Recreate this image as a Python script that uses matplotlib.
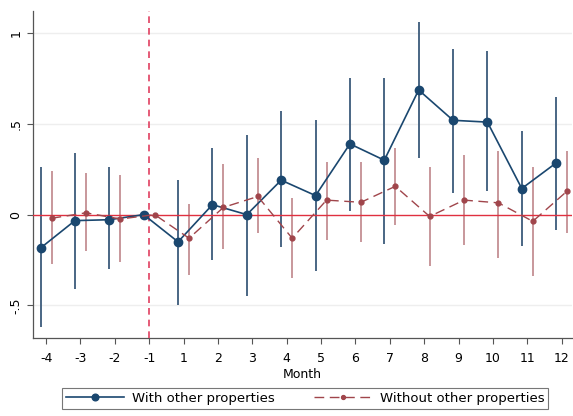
import matplotlib
matplotlib.use("Agg")
import matplotlib.pyplot as plt
import numpy as np

months = ["-4", "-3", "-2", "-1", "1", "2", "3", "4", "5", "6", "7", "8", "9", "10", "11", "12"]

with_est = [-0.184, -0.033, -0.028, 0.0, -0.15, 0.055, 0.0, 0.19, 0.105, 0.39, 0.30, 0.687, 0.52, 0.51, 0.144, 0.285]
with_lo = [-0.62, -0.41, -0.30, 0.0, -0.50, -0.25, -0.45, -0.18, -0.31, 0.02, -0.16, 0.31, 0.12, 0.13, -0.175, -0.087]
with_hi = [0.26, 0.34, 0.26, 0.0, 0.19, 0.37, 0.44, 0.57, 0.52, 0.755, 0.755, 1.06, 0.915, 0.90, 0.46, 0.65]

without_est = [-0.02, 0.01, -0.024, 0.0, -0.13, 0.04, 0.10, -0.13, 0.08, 0.068, 0.156, -0.01, 0.08, 0.065, -0.037, 0.13]
without_lo = [-0.27, -0.20, -0.26, 0.0, -0.33, -0.19, -0.10, -0.35, -0.14, -0.15, -0.055, -0.285, -0.17, -0.24, -0.34, -0.10]
without_hi = [0.24, 0.23, 0.22, 0.0, 0.06, 0.28, 0.31, 0.09, 0.29, 0.29, 0.37, 0.26, 0.33, 0.35, 0.26, 0.35]

navy = "#1a476f"
maroon = "#a0454b"

fig = plt.figure(figsize=(5.73, 4.16), dpi=100)
ax = fig.add_axes([0.0576, 0.1875, 0.94, 0.785])

x = np.arange(len(months))
off = 0.16
xb = x - off
xr = x + off

# grid
for yv in [-0.5, 0.5, 1.0]:
    ax.axhline(yv, color="#eeeeee", lw=1.0, zorder=0)

# CIs
ax.vlines(xb, with_lo, with_hi, color="#4a6684", lw=1.4, zorder=2)
ax.vlines(xr, without_lo, without_hi, color="#c8979b", lw=1.4, zorder=2)

ax.axhline(0, color="#e03040", lw=1.0, zorder=3)
ax.axvline(3, color="#e04060", lw=1.2, ls=(0, (4, 3)), zorder=3)

ax.plot(xb, with_est, color=navy, lw=1.2, marker="o", ms=6, zorder=4,
        label="With other properties")
ax.plot(xr, without_est, color=maroon, lw=1.0, ls=(0, (7, 4)), marker="o", ms=3.5, zorder=4,
        label="Without other properties")

ax.set_xlim(-0.38, 15.29)
ax.set_ylim(-0.68, 1.12)
ax.set_xticks(x)
ax.set_xticklabels(months, fontsize=9)
ax.set_yticks([-0.5, 0, 0.5, 1.0])
ax.set_yticklabels(["-.5", "0", ".5", "1"], fontsize=9, rotation=90, va="center")
ax.tick_params(axis="both", length=4, color="#555555", width=0.8)
ax.tick_params(axis="x", pad=6)
ax.set_xlabel("Month", fontsize=9, labelpad=2)

for s in ["top", "right"]:
    ax.spines[s].set_visible(False)
for s in ["left", "bottom"]:
    ax.spines[s].set_color("#555555")
    ax.spines[s].set_linewidth(0.9)

leg = ax.legend(loc="upper center", bbox_to_anchor=(0.505, -0.133), ncol=2, fontsize=9.5,
                frameon=True, fancybox=False, edgecolor="#555555", handlelength=4.4,
                columnspacing=3.0, borderpad=0.3, handletextpad=0.6, markerscale=0.8)
leg.get_frame().set_linewidth(0.8)

fig.savefig("out.png", dpi=100)
